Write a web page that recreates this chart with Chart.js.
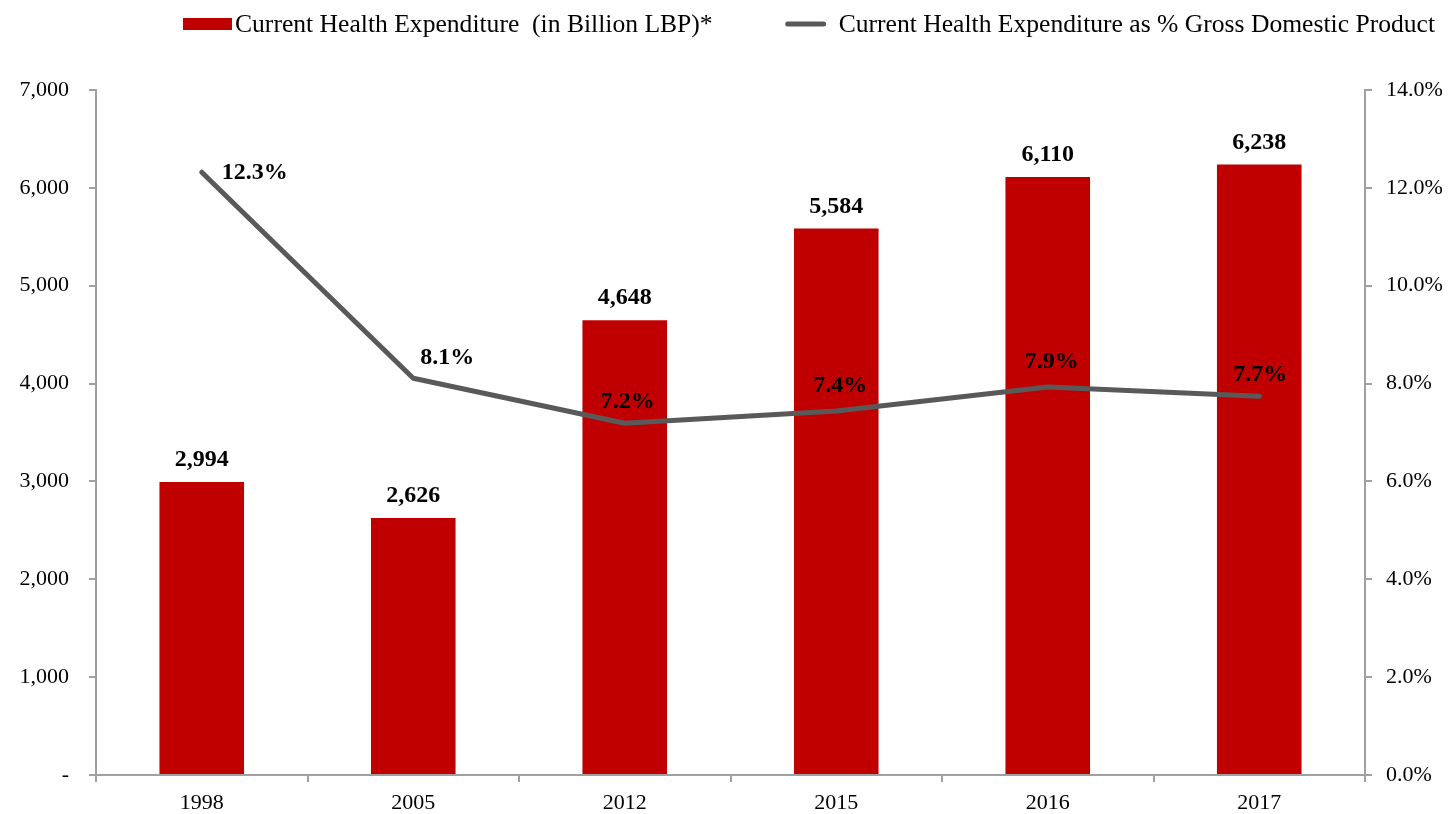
<!DOCTYPE html>
<html>
<head>
<meta charset="utf-8">
<script src="https://cdn.jsdelivr.net/npm/chart.js@4.4.1/dist/chart.umd.min.js"></script>
<style>
  html, body { margin: 0; padding: 0; background: #ffffff; }
  #wrap { width: 1449px; height: 814px; position: relative; }
</style>
</head>
<body>
<div id="wrap"><canvas id="c" width="1449" height="814"></canvas></div>
<script>
// ---- data ----
const categories = ['1998', '2005', '2012', '2015', '2016', '2017'];
const expenditureBillionLBP = [2994, 2626, 4648, 5584, 6110, 6238];
const expenditurePctGDP = [12.32, 8.11, 7.19, 7.44, 7.93, 7.74];
const seriesNames = [
  'Current Health Expenditure  (in Billion LBP)*',
  'Current Health Expenditure as % Gross Domestic Product'
];
const leftTicks = [0, 1000, 2000, 3000, 4000, 5000, 6000, 7000];
const rightTicks = [0, 2, 4, 6, 8, 10, 12, 14];

// ---- style / layout constants ----
const FONT = '"Liberation Serif", "Times New Roman", serif';
const BAR_COLOR = '#C00000';
const LINE_COLOR = '#595959';
const AXIS_COLOR = '#A0A0A0';
// label offsets for the % labels (dx, dy relative to point)
const pctLabelOffsets = [[53, 1], [34, -20], [3, -21], [4, -25], [4, -25], [1, -21]];

const labelPlugin = {
  id: 'valueLabels',
  afterDatasetsDraw(chart) {
    const ctx = chart.ctx;
    ctx.save();
    ctx.fillStyle = '#000';
    ctx.font = 'bold 24px ' + FONT;
    ctx.textAlign = 'center';
    ctx.textBaseline = 'middle';
    const barMeta = chart.getDatasetMeta(0);
    barMeta.data.forEach((el, i) => {
      ctx.fillText(expenditureBillionLBP[i].toLocaleString('en-US'), el.x, el.y - 22);
    });
    const lineMeta = chart.getDatasetMeta(1);
    lineMeta.data.forEach((el, i) => {
      const o = pctLabelOffsets[i];
      ctx.fillText(expenditurePctGDP[i].toFixed(1) + '%', el.x + o[0], el.y + o[1]);
    });
    ctx.restore();
  }
};

const legendPlugin = {
  id: 'customLegend',
  afterDraw(chart) {
    const ctx = chart.ctx;
    ctx.save();
    ctx.font = '25.6px ' + FONT;
    ctx.fillStyle = '#000';
    ctx.textBaseline = 'middle';
    ctx.textAlign = 'left';
    const y = 24;
    let x = 183;
    // bar item
    ctx.fillStyle = BAR_COLOR;
    ctx.fillRect(x, y - 6, 49, 12);
    ctx.fillStyle = '#000';
    x += 52;
    ctx.fillText(seriesNames[0], x, y + 1);
    x += ctx.measureText(seriesNames[0]).width + 73;
    // line item
    ctx.strokeStyle = LINE_COLOR;
    ctx.lineWidth = 5;
    ctx.lineCap = 'round';
    ctx.beginPath();
    ctx.moveTo(x + 2, y);
    ctx.lineTo(x + 38, y);
    ctx.stroke();
    x += 53;
    ctx.fillText(seriesNames[1], x, y + 1);
    ctx.restore();
  }
};

new Chart(document.getElementById('c'), {
  data: {
    labels: categories,
    datasets: [
      {
        type: 'bar',
        label: seriesNames[0],
        data: expenditureBillionLBP,
        backgroundColor: BAR_COLOR,
        yAxisID: 'y',
        order: 1,
        barPercentage: 0.4,
        categoryPercentage: 1.0
      },
      {
        type: 'line',
        label: seriesNames[1],
        data: expenditurePctGDP,
        borderColor: LINE_COLOR,
        backgroundColor: LINE_COLOR,
        borderWidth: 5,
        borderCapStyle: 'round',
        borderJoinStyle: 'round',
        pointRadius: 0,
        tension: 0,
        yAxisID: 'y1',
        order: 0
      }
    ]
  },
  options: {
    responsive: false,
    animation: false,
    events: [],
    layout: { padding: { top: 90, left: 0, right: 0, bottom: 0 } },
    plugins: {
      legend: { display: false },
      tooltip: { enabled: false }
    },
    scales: {
      x: {
        offset: true,
        grid: {
          offset: true,
          drawOnChartArea: false,
          drawTicks: true,
          tickLength: 7,
          color: AXIS_COLOR,
          lineWidth: 2
        },
        border: { display: true, color: AXIS_COLOR, width: 2 },
        ticks: {
          color: '#000',
          font: { family: FONT, size: 22 },
          padding: 8
        },
        afterFit(scale) { scale.height = 39; }
      },
      y: {
        position: 'left',
        min: 0,
        max: 7000,
        afterBuildTicks(scale) { scale.ticks = leftTicks.map(v => ({ value: v })); },
        grid: {
          drawOnChartArea: false,
          drawTicks: true,
          tickLength: 7,
          color: AXIS_COLOR,
          lineWidth: 2
        },
        border: { display: true, color: AXIS_COLOR, width: 2 },
        ticks: {
          color: '#000',
          font: { family: FONT, size: 22 },
          padding: 20,
          callback: v => v === 0 ? '-' : v.toLocaleString('en-US')
        },
        afterFit(scale) { scale.width = 96; }
      },
      y1: {
        position: 'right',
        min: 0,
        max: 14,
        afterBuildTicks(scale) { scale.ticks = rightTicks.map(v => ({ value: v })); },
        grid: {
          drawOnChartArea: false,
          drawTicks: true,
          tickLength: 7,
          color: AXIS_COLOR,
          lineWidth: 2
        },
        border: { display: true, color: AXIS_COLOR, width: 2 },
        ticks: {
          color: '#000',
          font: { family: FONT, size: 22 },
          padding: 14,
          callback: v => v.toFixed(1) + '%'
        },
        afterFit(scale) { scale.width = 84; }
      }
    }
  },
  plugins: [labelPlugin, legendPlugin]
});
</script>
</body>
</html>
